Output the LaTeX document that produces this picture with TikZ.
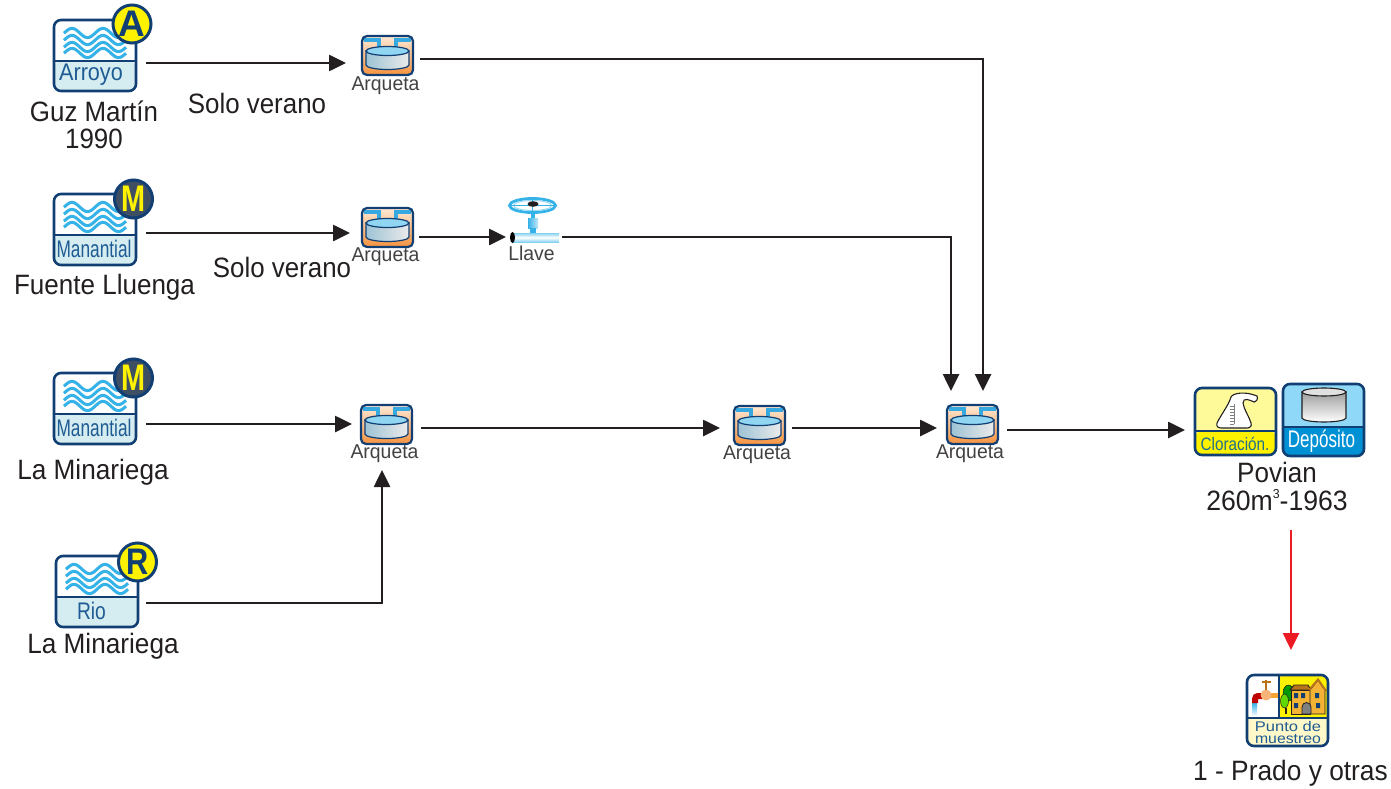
\documentclass[tikz,border=0pt]{standalone}
\usepackage{fontspec}
\usepackage{graphicx}
\setmainfont{Liberation Sans}
\usetikzlibrary{arrows.meta}
\definecolor{navy}{HTML}{123F73}
\definecolor{txtblue}{HTML}{1F5C94}
\definecolor{wave}{HTML}{35B2E8}
\definecolor{pale}{HTML}{D5EDF0}
\definecolor{ink}{HTML}{231F20}
\definecolor{yel}{HTML}{FFF200}
\definecolor{mgrey}{HTML}{3F4F63}
\definecolor{orng}{HTML}{F5923E}
\definecolor{peach}{HTML}{FFE9D6}
\definecolor{pipe}{HTML}{35A9E0}
\definecolor{depband}{HTML}{0091D5}
\definecolor{deptop}{HTML}{8FD8F7}
\definecolor{clotxt}{HTML}{1F6E8C}
\definecolor{arrred}{HTML}{ED1C24}
\definecolor{paley}{HTML}{FFF8C8}
\definecolor{house}{HTML}{F5B335}
\definecolor{roof}{HTML}{B8741A}
\tikzset{
  x=1pt,y=-1pt,
  hit/.style={inner sep=0,outer sep=0,draw=none,fill=none},
  conn/.style={draw=ink,line width=2.6pt,-{Triangle[length=17pt,width=16pt]}},
  redconn/.style={draw=arrred,line width=2.6pt,-{Triangle[length=17pt,width=16pt]}},
  lab/.style={inner sep=0,text=ink,align=center,font=\fontsize{28}{28}\selectfont},
  sublab/.style={inner sep=0,text=ink!85,font=\fontsize{20}{20}\selectfont},
  icontxt/.style={inner sep=0,text=txtblue},
  framebox/.style={draw=navy,line width=2.6pt,rounded corners=7pt},
  wavy/.style={draw=wave,line width=3pt},
  letterstyle/.style={inner sep=0,font=\fontsize{37}{37}\selectfont\bfseries},
}
% name, left, top, band text scale, band text, badge dx, dy, band text x, badge fill
\newcommand\srcicon[9]{%
  \node[hit,minimum width=82pt,minimum height=71pt,anchor=north west] (#1) at (#2,#3) {};
  \begin{scope}[shift={(#2,#3)}]
    \fill[white,rounded corners=7pt] (0,0) rectangle (82,71);
    \fill[pale,rounded corners=7pt] (0,41) rectangle (82,71);
    \foreach \yy in {13,20,27,33}{
      \draw[wavy] plot[domain=10:72,samples=45,smooth] ({\x},{\yy-4.6*sin(90+(\x-18)*11.613)});
    }
    \draw[navy,line width=2.6pt] (0,41) -- (82,41);
    \draw[framebox] (0,0) rectangle (82,71);
    \node[icontxt,font=\fontsize{24}{24}\selectfont] at (#8,55) {\scalebox{#4}[1]{#5}};
    \draw[navy,line width=3pt,fill=#9] (#6,#7) circle (19);
  \end{scope}}
\newcommand\badgeletter[5]{\node[letterstyle,text=#4] at (#1,#2) {\scalebox{#5}[1]{#3}};}
% name, left, top
\newcommand\arqicon[3]{%
  \node[hit,minimum width=51pt,minimum height=39pt,anchor=north west] (#1) at (#2,#3) {};
  \begin{scope}[shift={(#2,#3)}]
    \shade[top color=peach,bottom color=orng,rounded corners=5pt] (0,0) rectangle (51,39);
    \draw[pipe,line width=3.2pt] (2,4) -- (17,4) -- (17,12);
    \draw[pipe,line width=3.2pt] (49,4) -- (34,4) -- (34,12);
    \shade[left color=black!28!pipe!45!white,right color=white!92!black,draw=navy,line width=1.2pt]
      (4,15) -- (4,29) arc[start angle=180,end angle=0,x radius=21.5,y radius=4.5] -- (47,15) -- cycle;
    \fill[wave!55!white,draw=navy,line width=1.2pt] (25.5,15) ellipse (21.5 and 4.5);
    \draw[framebox,line width=2.2pt,rounded corners=5pt] (0,0) rectangle (51,39);
  \end{scope}}
\begin{document}
\begin{tikzpicture}
\useasboundingbox (0,0) rectangle (1391,789);

% Sources
\srcicon{sa}{54}{20}{0.9}{Arroyo}{78}{4}{37}{yel}
\badgeletter{132}{24}{A}{navy}{1}
\srcicon{sb}{54}{194}{0.72}{Manantial}{79.5}{5}{40}{mgrey}
\badgeletter{133.5}{199}{M}{yel}{0.78}
\srcicon{sc}{54}{373}{0.72}{Manantial}{79.5}{5}{40}{mgrey}
\badgeletter{133.5}{378}{M}{yel}{0.78}
\srcicon{sd}{56}{556}{0.8}{Rio}{81.5}{6}{35.5}{yel}
\badgeletter{137.5}{562}{R}{navy}{0.83}

% Arquetas
\arqicon{aa}{362}{36}
\arqicon{ab}{362}{208}
\arqicon{ac}{361}{405}
\arqicon{ad}{734}{406}
\arqicon{ae}{947}{405}
\node[sublab] at (385.5,86) {\scalebox{0.97}[1]{Arqueta}};
\node[sublab] at (385.5,257) {\scalebox{0.97}[1]{Arqueta}};
\node[sublab] at (384.5,454) {\scalebox{0.97}[1]{Arqueta}};
\node[sublab] at (757,455) {\scalebox{0.97}[1]{Arqueta}};
\node[sublab] at (970,454) {\scalebox{0.97}[1]{Arqueta}};

% Valve
\node[hit,minimum width=52pt,minimum height=46pt,anchor=north west] (valve) at (508,198) {};
\begin{scope}
  \shade[top color=wave!60!white,bottom color=wave!60!white,middle color=white] (512,233) rectangle (559,242);
  \fill[black] (512.5,237.5) ellipse (2.5 and 5.5);
  \fill[wave] (531,212) rectangle (535,218);
  \shade[left color=wave,right color=wave!30!white] (528,218) rectangle (538,228);
  \fill[wave] (530,228) rectangle (536,233);
  \draw[wave,line width=2.8pt] (532.5,205.5) ellipse (23 and 7);
  \draw[wave!50!white,line width=1pt] (532.5,205.5) ellipse (19 and 5);
  \draw[wave,line width=1.2pt] (510,205.5) -- (555,205.5) (532.5,199) -- (532.5,212);
  \fill[ink] (533,204) ellipse (5.5 and 2.8);
\end{scope}
\node[sublab] at (531.5,253) {\scalebox{0.97}[1]{Llave}};

% Cloracion
\node[hit,minimum width=82pt,minimum height=67pt,anchor=north west] (clo) at (1195,388) {};
\begin{scope}[shift={(1195,388)}]
  \fill[yel!40!white,rounded corners=7pt] (0,0) rectangle (81,67);
  \fill[yel,rounded corners=7pt] (0,43) rectangle (81,67);
  \fill[white,draw=ink,line width=1.1pt] (26,40) .. controls (21,40) and (21,36) .. (23,33)
     .. controls (28,24) and (34,16) .. (36,9) .. controls (38,5) and (50,3) .. (62,8)
     .. controls (63,11) and (62,13) .. (59,14) .. controls (55,12) and (48,9) .. (48,15)
     .. controls (49,22) and (54,28) .. (56,35) .. controls (57,38) and (55,40) .. (52,40) -- cycle;
  \draw[black!50,line width=.8pt] (39,16) -- (39,36);
  \foreach \t in {18,21,24,27,30,33,36}{\draw[black!50,line width=.8pt] (35,\t) -- (39,\t);}
  \draw[navy,line width=2.2pt] (0,43) -- (81,43);
  \draw[framebox] (0,0) rectangle (81,67);
  \node[inner sep=0,text=clotxt,font=\fontsize{18}{18}\selectfont] at (40,56) {\scalebox{0.85}[1]{Cloración.}};
\end{scope}

% Deposito
\node[hit,minimum width=82pt,minimum height=72pt,anchor=north west] (dep) at (1283,384) {};
\begin{scope}[shift={(1283,384)}]
  \fill[deptop,rounded corners=7pt] (0,0) rectangle (81,72);
  \fill[depband,rounded corners=7pt] (0,43) rectangle (81,72);
  \fill[depband] (0,43) rectangle (81,52);
  \shade[top color=black!38,bottom color=white,draw=ink,line width=1.1pt]
     (19,8) -- (19,34) arc[start angle=180,end angle=0,x radius=22,y radius=4] -- (63,8) -- cycle;
  \fill[white!88!black,draw=ink,line width=1.1pt] (41,8) ellipse (22 and 4);
  \draw[navy,line width=2.2pt] (0,43) -- (81,43);
  \draw[framebox] (0,0) rectangle (81,72);
  \node[inner sep=0,text=white,font=\fontsize{24}{24}\selectfont] at (38.5,57.5) {\scalebox{0.71}[1]{Depósito}};
\end{scope}

% Punto de muestreo
\node[hit,minimum width=81pt,minimum height=71pt,anchor=north west] (pun) at (1247,675) {};
\begin{scope}[shift={(1247,675)}]
  \fill[paley,rounded corners=7pt] (0,0) rectangle (81,71);
  \fill[white,rounded corners=5pt] (1,1) rectangle (32,43);
  \fill[yel,rounded corners=3pt] (32,1) rectangle (80,43);
  % tap
  \shade[top color=wave,bottom color=white] (5,28) rectangle (10,41);
  \draw[red!75!black,line width=6pt,rounded corners=3pt] (8,28) -- (8,21) -- (16,21);
  \draw[orng!80!yel,line width=5pt] (20,20) -- (31,20);
  \fill[orng!70!white] (19,20) circle (5.5);
  \draw[roof,line width=1.6pt] (19,15) -- (19,5) (14.5,7) -- (23.5,7);
  % trees
  \fill[green!60!black,draw=ink,line width=.5pt] (41.5,18) ellipse (5.5 and 8);
  \fill[green!55!yellow!85!black,draw=ink,line width=.5pt] (37.5,26) ellipse (4 and 7);
  \draw[ink,line width=1.2pt] (39,33) -- (39,39);
  % house
  \fill[house,draw=ink,line width=.9pt] (44,39) -- (44,15) -- (63,15) -- (63,39) -- cycle;
  \fill[roof,draw=ink,line width=.9pt] (43,15) -- (47,10) -- (61,10) -- (64,15) -- cycle;
  \fill[house,draw=ink,line width=.9pt] (63,39) -- (63,15) -- (71,5) -- (78,15) -- (78,39) -- cycle;
  \draw[roof,line width=2pt] (62,15) -- (71,4.5) -- (79,16);
  \fill[navy] (47,18) rectangle (51,23) (54,18) rectangle (58,23) (68,18) rectangle (72,23) (47,28) rectangle (51,33) (69,28) rectangle (73,33);
  \fill[black!50,draw=ink,line width=.8pt] (55,39) -- (55,32) arc[start angle=180,end angle=0,x radius=4.5,y radius=-4.5] -- (64,39) -- cycle;
  \draw[navy,line width=2.2pt] (32,0) -- (32,43) (0,43) -- (81,43);
  \draw[framebox] (0,0) rectangle (81,71);
  \node[icontxt,font=\fontsize{14}{14}\selectfont] at (41,51) {\scalebox{1.18}[1]{Punto de}};
  \node[icontxt,font=\fontsize{14}{14}\selectfont] at (41,64) {\scalebox{1.13}[1]{muestreo}};
\end{scope}

% Labels
\node[lab] at (94,111) {\scalebox{0.925}[1]{Guz Martín}};
\node[lab] at (94,139) {\scalebox{0.925}[1]{1990}};
\node[lab] at (257,103) {\scalebox{0.925}[1]{Solo verano}};
\node[lab] at (104.5,287) {\scalebox{0.93}[1]{Fuente Lluenga}};
\node[lab] at (282,267) {\scalebox{0.925}[1]{Solo verano}};
\node[lab] at (93,472) {\scalebox{0.935}[1]{La Minariega}};
\node[lab] at (103,646) {\scalebox{0.935}[1]{La Minariega}};
\node[lab] at (1277,472) {\scalebox{0.93}[1]{Povian}};
\node[lab] at (1277,500) {\scalebox{0.95}[1]{260m\raisebox{12pt}{\fontsize{13}{13}\selectfont 3}-1963}};
\node[lab] at (1290.5,773) {\scalebox{0.94}[1]{1 - Prado y otras}};

% Connector ends
\coordinate (saout) at (146,63); \coordinate (aain) at (346,63);
\coordinate (aaout) at (420,59); \coordinate (aeinb) at (983,391);
\coordinate (sbout) at (146,233); \coordinate (abin) at (350,233);
\coordinate (about) at (419,237); \coordinate (valvein) at (506,237);
\coordinate (valveout) at (562,237); \coordinate (aeina) at (951,391);
\coordinate (scout) at (146,424); \coordinate (acin) at (352,424);
\coordinate (acout) at (421,428); \coordinate (adin) at (720,428);
\coordinate (adout) at (792,428); \coordinate (aein) at (937,428);
\coordinate (aeout) at (1007,430); \coordinate (cloin) at (1185,430);
\coordinate (depout) at (1291,530); \coordinate (punin) at (1291,650);
\coordinate (sdout) at (146,603); \coordinate (acinb) at (382,470);

\draw[conn] (saout) -- (aain);
\draw[conn] (aaout) -| (aeinb);
\draw[conn] (sbout) -- (abin);
\draw[conn] (about) -- (valvein);
\draw[conn] (valveout) -| (aeina);
\draw[conn] (scout) -- (acin);
\draw[conn] (acout) -- (adin);
\draw[conn] (adout) -- (aein);
\draw[conn] (aeout) -- (cloin);
\draw[redconn] (depout) -- (punin);
\draw[conn] (sdout) -| (acinb);
\end{tikzpicture}
\end{document}
